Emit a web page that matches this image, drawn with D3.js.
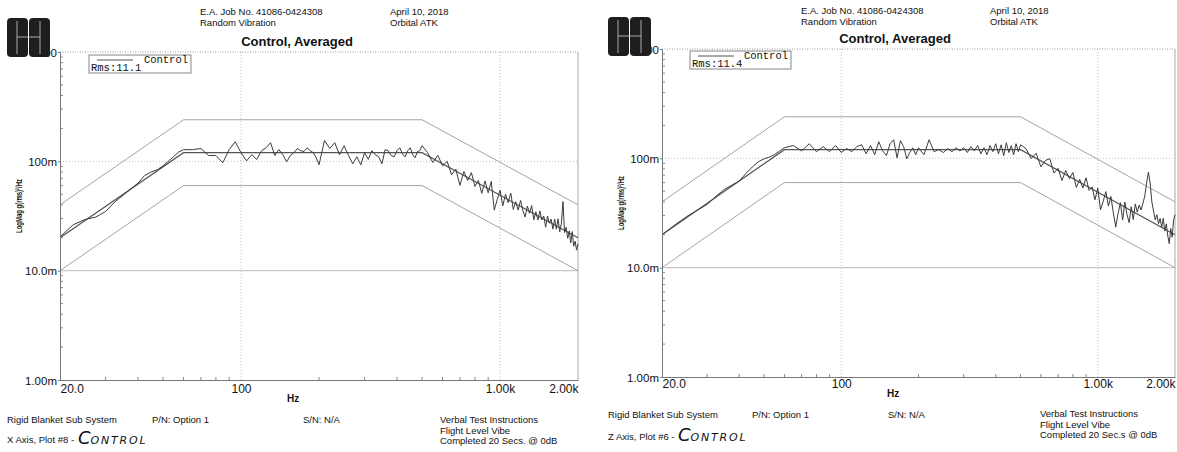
<!DOCTYPE html>
<html><head><meta charset="utf-8">
<script src="https://cdn.jsdelivr.net/npm/d3@7"></script>
<style>
body{margin:0;background:#fff}
svg{display:block}
text{font-family:"Liberation Sans",Arial,sans-serif;fill:#111}
</style>
</head><body>
<svg id="c" width="1177" height="452"></svg>
<script>
// ---------- DATA ----------
const freqs = [20,22.5,25,27.5,30,32.5,35,37.5,40,42.5,45,47.5,50,52.5,55,57.5,60,
 65,70,75,80,85,90,95,100,105,110,115,120,125,130,135,140,145,150,155,160,165,170,175,180,185,190,195,200,
 210,220,230,240,250,260,270,280,290,300,310,320,330,340,350,360,370,380,390,400,410,420,430,440,450,460,470,480,490,500,
 525,550,575,600,625,650,675,700,725,750,775,800,825,850,875,900,925,950,975,1000,
 1025,1050,1075,1100,1125,1150,1175,1200,1225,1250,1275,1300,1325,1350,1375,1400,1425,1450,1475,1500,
 1525,1550,1575,1600,1625,1650,1675,1700,1725,1750,1775,1800,1825,1850,1875,1900,1925,1950,1975,2000];

// X axis, plot #8 - control (g^2/Hz)
const controlX = [0.0204,0.0263,0.0294,0.0309,0.0348,0.0424,0.0488,0.0558,0.0632,0.0744,0.0800,0.0837,0.0910,0.1006,0.1108,0.1219,0.1278,
 0.128,0.131,0.113,0.113,0.097,0.128,0.151,0.120,0.101,0.115,0.104,0.125,0.133,0.148,0.113,0.128,0.115,0.099,0.113,0.120,0.131,0.125,0.123,0.133,0.125,0.120,0.108,0.093,
 0.155,0.131,0.148,0.115,0.139,0.113,0.095,0.110,0.093,0.120,0.104,0.125,0.115,0.110,0.095,0.128,0.125,0.113,0.110,0.125,0.133,0.117,0.110,0.125,0.133,0.115,0.108,0.123,0.125,0.139,
 0.120,0.0975,0.1137,0.0909,0.0999,0.0753,0.0849,0.0603,0.0807,0.0668,
 0.0789,0.0589,0.0669,0.0510,0.0661,0.0516,0.0655,0.0358,0.0446,0.0544,
 0.0392,0.0500,0.0419,0.0513,0.0363,0.0427,0.0358,0.0439,0.0354,0.0310,
 0.0390,0.0335,0.0394,0.0292,0.0346,0.0291,0.0352,0.0291,0.0316,0.0250,
 0.0316,0.0272,0.0296,0.0240,0.0297,0.0240,0.0298,0.0227,0.0269,0.0429,
 0.0223,0.0249,0.0198,0.0231,0.0179,0.0228,0.0167,0.0186,0.0154,0.0176];

// Z axis, plot #6 - control (g^2/Hz)
const controlZ = [0.0200,0.0247,0.0294,0.0336,0.0379,0.0451,0.0519,0.0570,0.0619,0.0728,0.0834,0.0931,0.0990,0.1028,0.1085,0.1168,0.125,
 0.131,0.117,0.136,0.115,0.128,0.115,0.131,0.113,0.123,0.115,0.128,0.133,0.110,0.131,0.108,0.142,0.117,0.106,0.136,0.148,0.101,0.145,0.128,0.099,0.113,0.125,0.108,0.125,
 0.108,0.148,0.115,0.120,0.113,0.123,0.115,0.125,0.117,0.125,0.113,0.128,0.117,0.131,0.110,0.125,0.108,0.131,0.115,0.136,0.110,0.133,0.106,0.139,0.113,0.131,0.108,0.136,0.115,0.133,
 0.1226,0.0996,0.1113,0.0835,0.0957,0.0991,0.0733,0.0810,0.0627,0.0774,
 0.0653,0.0742,0.0542,0.0643,0.0535,0.0664,0.0509,0.0547,0.0418,0.0533,
 0.0338,0.0405,0.0496,0.0366,0.0448,0.0317,0.0235,0.0313,0.0393,0.0273,
 0.0398,0.0307,0.0258,0.0361,0.0275,0.0383,0.0323,0.0374,0.0337,0.0389,
 0.0451,0.0594,0.0748,0.0595,0.0399,0.0330,0.0274,0.0305,0.0252,0.0282,
 0.0233,0.0283,0.0216,0.0251,0.0195,0.0166,0.0228,0.0190,0.0273,0.0305];

// reference profile and +/-3 dB tolerances
const refFreqs    = [20, 60, 500, 2000];
const refLevels   = [0.02, 0.12, 0.12, 0.02];
const upperLevels = [0.04, 0.24, 0.24, 0.04];
const lowerLevels = [0.01, 0.06, 0.06, 0.01];

const xDomain = [20, 2000];
const yDomain = [0.001, 1];
const xTicks = [20, 100, 1000, 2000];
const xTickLabels = ["20.0", "100", "1.00k", "2.00k"];
const yTicks = [0.001, 0.01, 0.1, 1];
const yTickLabels = ["1.00m", "10.0m", "100m", "1.00"];
const gridFreqs = [100, 1000];
const gridLevelsDotted = [0.1];
const gridLevelsSolid = [0.01];

const titleText = "Control, Averaged";
const jobText = ["E.A. Job No. 41086-0424308", "Random Vibration"];
const dateText = ["April 10, 2018", "Orbital ATK"];
const yAxisTitle = "LogMag g(rms)²/Hz";
const xAxisTitle = "Hz";
const legendName = "Control";
const rmsLabels = ["Rms:11.1", "Rms:11.4"];
const footerLeft = ["Rigid Blanket Sub System", "P/N: Option 1", "S/N: N/A"];
const plotLabels = ["X Axis, Plot #8 - ", "Z Axis, Plot #6 - "];
const handLabel = ["C", "ONTROL"];
const instructionsX = ["Verbal Test Instructions", "Flight Level Vibe", "Completed 20 Secs. @ 0dB"];
const instructionsZ = ["Verbal Test Instructions", "Flight Level Vibe", "Completed 20 Sec.s @ 0dB"];

// ---------- LAYOUT ----------
const panels = [
 {values: controlX, rms: rmsLabels[0], plot: plotLabels[0], instr: instructionsX,
  left: 60, right: 578, top: 52, bottom: 380,
  logo: [7, 18], jobX: 200, dateX: 390, headY: 15, titleX: 297, titleY: 46,
  legend: [89, 55, 102, 18], yTitle: [19, 206], hzPos: [287, 402], xLabDy: 13,
  foot: {y1: 423, y2: 443, pnX: 152, snX: 303, instrX: 440, instrY: 423, handX: 78}},
 {values: controlZ, rms: rmsLabels[1], plot: plotLabels[1], instr: instructionsZ,
  left: 662, right: 1175, top: 49, bottom: 377,
  logo: [608, 17], jobX: 801, dateX: 990, headY: 14, titleX: 895, titleY: 43,
  legend: [690, 51, 101, 18], yTitle: [621, 203], hzPos: [887, 397], xLabDy: 11,
  foot: {y1: 418, y2: 440, pnX: 752, snX: 888, instrX: 1040, instrY: 417, handX: 678}}
];

const svg = d3.select("#c");

function drawPanel(p) {
  const g = svg.append("g");
  const x = d3.scaleLog().domain(xDomain).range([p.left, p.right]);
  const y = d3.scaleLog().domain(yDomain).range([p.bottom, p.top]);

  // grid
  g.selectAll(null).data(gridFreqs).join("line")
    .attr("x1", d => x(d)).attr("x2", d => x(d)).attr("y1", p.top).attr("y2", p.bottom)
    .attr("stroke", "#c4c4c4").attr("stroke-dasharray", "1,2");
  g.selectAll(null).data(gridLevelsDotted).join("line")
    .attr("x1", p.left).attr("x2", p.right).attr("y1", d => y(d)).attr("y2", d => y(d))
    .attr("stroke", "#c4c4c4").attr("stroke-dasharray", "1,2");
  g.selectAll(null).data(gridLevelsSolid).join("line")
    .attr("x1", p.left).attr("x2", p.right).attr("y1", d => y(d)).attr("y2", d => y(d))
    .attr("stroke", "#c8c8c8").attr("stroke-width", 1.2);

  // frame top (dotted) and right
  g.append("line").attr("x1", p.left).attr("x2", p.right).attr("y1", p.top).attr("y2", p.top)
    .attr("stroke", "#999").attr("stroke-dasharray", "1,1.5");
  g.append("line").attr("x1", p.right).attr("x2", p.right).attr("y1", p.top).attr("y2", p.bottom)
    .attr("stroke", "#aaa");

  const line = d3.line().x(d => x(d[0])).y(d => y(d[1]));
  [upperLevels, lowerLevels].forEach(lv => {
    g.append("path").datum(d3.zip(refFreqs, lv)).attr("d", line)
      .attr("fill", "none").attr("stroke", "#a4a4a4").attr("stroke-width", 1);
  });
  g.append("path").datum(d3.zip(refFreqs, refLevels)).attr("d", line)
    .attr("fill", "none").attr("stroke", "#555").attr("stroke-width", 1.2);
  g.append("path").datum(d3.zip(freqs, p.values)).attr("d", line)
    .attr("fill", "none").attr("stroke", "#3c3c3c").attr("stroke-width", 1);

  // y axis
  const ya = g.append("g").attr("transform", `translate(${p.left},0)`)
    .call(d3.axisLeft(y).tickValues(yTicks).tickFormat((d, i) => yTickLabels[i]).tickSize(2).tickPadding(1));
  ya.select(".domain").attr("stroke", "#777");
  ya.selectAll(".tick line").attr("stroke", "#777");
  ya.selectAll("text").attr("font-size", 11.5).attr("fill", "#111")
    .attr("font-family", "'Liberation Sans',Arial,sans-serif").attr("dy", "0.35em");
  const yMinor = y.ticks().filter(t => !yTicks.some(m => Math.abs(m - t) / t < 1e-6));
  g.selectAll(null).data(yMinor).join("line")
    .attr("x1", p.left).attr("x2", p.left + 3).attr("y1", d => y(d)).attr("y2", d => y(d))
    .attr("stroke", "#888");

  // x axis
  const xa = g.append("g").attr("transform", `translate(0,${p.bottom})`)
    .call(d3.axisBottom(x).tickValues(xTicks).tickFormat((d, i) => xTickLabels[i]).tickSize(0).tickPadding(0));
  xa.select(".domain").attr("stroke", "#777");
  xa.selectAll("text").attr("font-size", 12).attr("fill", "#111")
    .attr("font-family", "'Liberation Sans',Arial,sans-serif")
    .attr("dy", null).attr("y", p.xLabDy)
    .attr("text-anchor", (d, i) => i === 0 ? "start" : (i === xTicks.length - 1 ? "end" : "middle"));
  const xMinor = x.ticks().filter(t => !xTicks.includes(t));
  g.selectAll(null).data(xMinor).join("line")
    .attr("x1", d => x(d)).attr("x2", d => x(d)).attr("y1", p.bottom).attr("y2", p.bottom - 3)
    .attr("stroke", "#888");

  // axis titles
  g.append("text").attr("x", p.hzPos[0]).attr("y", p.hzPos[1]).attr("font-size", 10)
    .attr("font-weight", "bold").text(xAxisTitle);
  g.append("text").attr("transform", `translate(${p.yTitle[0]},${p.yTitle[1]}) rotate(-90)`)
    .attr("text-anchor", "middle").attr("dy", "0.35em").attr("font-size", 9.5)
    .attr("font-weight", "bold").attr("textLength", 54).attr("lengthAdjust", "spacingAndGlyphs")
    .text(yAxisTitle);

  // logo (drawn over the hidden top label)
  const lg = g.append("g").attr("transform", `translate(${p.logo[0]},${p.logo[1]})`);
  lg.append("rect").attr("x", 0).attr("y", 0).attr("width", 21).attr("height", 39).attr("rx", 4).attr("fill", "#1e1e1e");
  lg.append("rect").attr("x", 22).attr("y", 0).attr("width", 21).attr("height", 39).attr("rx", 4).attr("fill", "#1e1e1e");
  lg.append("path").attr("d", "M10,3V36M33,3V36M10,19H33").attr("stroke", "#cfcfcf").attr("stroke-width", 0.8).attr("fill", "none");

  // header
  jobText.forEach((t, i) => g.append("text").attr("x", p.jobX).attr("y", p.headY + i * 10.5).attr("font-size", 9.5).text(t));
  dateText.forEach((t, i) => g.append("text").attr("x", p.dateX).attr("y", p.headY + i * 10.5).attr("font-size", 9.5).text(t));
  g.append("text").attr("x", p.titleX).attr("y", p.titleY).attr("text-anchor", "middle")
    .attr("font-size", 13).attr("font-weight", "bold").attr("fill", "#222").text(titleText);

  // legend
  const [lx, ly, lw, lh] = p.legend;
  g.append("rect").attr("x", lx).attr("y", ly).attr("width", lw).attr("height", lh)
    .attr("fill", "#fff").attr("stroke", "#888");
  g.append("line").attr("x1", lx + 8).attr("x2", lx + 44).attr("y1", ly + 5).attr("y2", ly + 5).attr("stroke", "#555");
  g.append("text").attr("x", lx + lw - 3).attr("y", ly + 8).attr("text-anchor", "end")
    .attr("font-size", 10.5).attr("fill", "#444")
    .style("font-family", "'Liberation Mono','DejaVu Sans Mono',monospace").text(legendName);
  g.append("text").attr("x", lx + 2).attr("y", ly + 16)
    .attr("font-size", 10.5).attr("fill", "#444")
    .style("font-family", "'Liberation Mono','DejaVu Sans Mono',monospace").text(p.rms);

  // footer
  const f = p.foot;
  g.append("text").attr("x", p.logo[0]).attr("y", f.y1).attr("font-size", 9.5).text(footerLeft[0]);
  g.append("text").attr("x", f.pnX).attr("y", f.y1).attr("font-size", 9.5).text(footerLeft[1]);
  g.append("text").attr("x", f.snX).attr("y", f.y1).attr("font-size", 9.5).text(footerLeft[2]);
  p.instr.forEach((t, i) => g.append("text").attr("x", f.instrX).attr("y", f.instrY + i * 10.5).attr("font-size", 9.5).text(t));
  g.append("text").attr("x", p.logo[0]).attr("y", f.y2).attr("font-size", 9.5).text(p.plot);
  const ht = g.append("text").attr("x", f.handX).attr("y", f.y2 + 1)
    .style("font-family", "'DejaVu Sans',sans-serif").attr("font-style", "italic").attr("fill", "#222");
  ht.append("tspan").attr("font-size", 18).text(handLabel[0]);
  ht.append("tspan").attr("font-size", 11).attr("letter-spacing", 1.8).text(handLabel[1]);
}

panels.forEach(drawPanel);
</script>
</body></html>
